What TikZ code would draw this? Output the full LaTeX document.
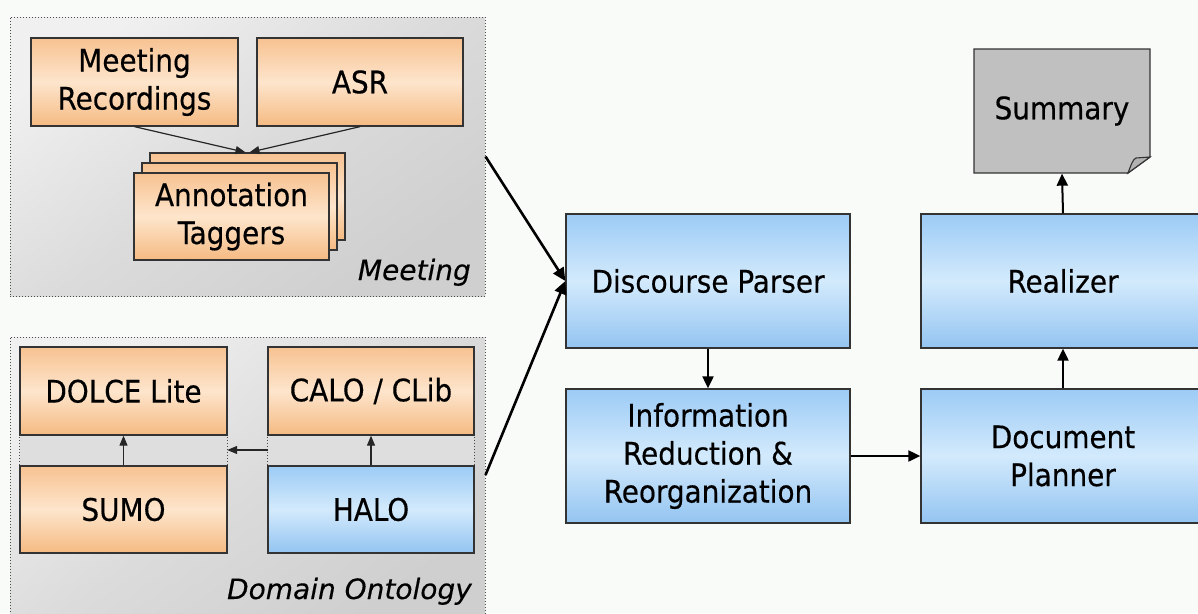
\documentclass[tikz,border=0pt]{standalone}
\usepackage{fontspec}
\setmainfont[FakeBold=0.4]{DejaVu Sans Condensed}
\newfontfamily\labfont[FakeBold=0.3]{DejaVu Sans}
\usetikzlibrary{arrows.meta}
\definecolor{bg}{HTML}{F9FBF9}
\definecolor{otop}{HTML}{F7C291}
\definecolor{omid}{HTML}{FDE5CC}
\definecolor{obot}{HTML}{F5BA82}
\definecolor{btop}{HTML}{9CCBF5}
\definecolor{bmid}{HTML}{D3EAFC}
\definecolor{bbot}{HTML}{93C4F1}
\definecolor{edge}{HTML}{333333}
\definecolor{sumfill}{HTML}{C0C0C0}
\begin{document}
\begin{tikzpicture}[x=1pt,y=-1pt,
 box/.style={draw=edge, line width=1.3pt, inner sep=0pt, align=center, font=\fontsize{31}{38}\selectfont},
 obox/.style={box, top color=otop, bottom color=obot, middle color=omid},
 bbox/.style={box, top color=btop, bottom color=bbot, middle color=bmid},
 panel/.style={draw=gray!60!black, dotted, line width=1pt, top color=gray!12, bottom color=gray!38, middle color=gray!28, shading angle=35, inner sep=0pt},
 grp/.style={draw=none, top color=gray!22, bottom color=gray!30, inner sep=0pt},
 lab/.style={font=\labfont\itshape\fontsize{28}{30}\selectfont, inner sep=0pt},
 bigarrow/.style={draw=black, line width=2.6pt, -{Triangle[length=13pt,width=12pt]}},
 midarrow/.style={draw=black, line width=2pt, -{Triangle[length=12pt,width=11pt]}},
 thinarrow/.style={draw=black!85, line width=1.2pt, -{Triangle[length=10pt,width=8pt]}}
]
\useasboundingbox (0,0) rectangle (1198,613);
\clip (0,0) rectangle (1198,613);
\fill[bg] (0,0) rectangle (1198,613);

% panels
\node[panel, minimum width=475, minimum height=279] (meet) at (247.5,156.5) {};
\node[panel, minimum width=475, minimum height=288] (dom) at (247.5,481) {};

% meeting content
\node[obox, minimum width=207, minimum height=88] (mr) at (134.5,82) {Meeting\\Recordings};
\node[obox, minimum width=206, minimum height=88] (asr) at (360,82) {ASR};
\node[obox, minimum width=195, minimum height=87] (at3) at (247.5,196.5) {};
\node[obox, minimum width=195, minimum height=87] (at2) at (239.5,206.5) {};
\node[obox, minimum width=195, minimum height=87] (at) at (231.5,216.5) {Annotation\\Taggers};
\draw[thinarrow] (mr.south) -- ([xshift=-2pt]at3.north);
\draw[thinarrow] (asr.south) -- ([xshift=2pt]at3.north);
\node[lab, anchor=base east] (ml) at (471,280) {Meeting};

% domain content
\node[grp, minimum width=207, minimum height=206] (lg) at (123.5,450) {};
\node[grp, minimum width=206, minimum height=206] (rg) at (371,450) {};
\draw[gray!60!black, dotted, line width=1pt] (lg.north west) -- (lg.south west) (lg.north east) -- (lg.south east);
\draw[gray!60!black, dotted, line width=1pt] (rg.north west) -- (rg.south west) (rg.north east) -- (rg.south east);
\node[obox, minimum width=207, minimum height=88] (dolce) at (123.5,391) {DOLCE Lite};
\node[obox, minimum width=207, minimum height=87] (sumo) at (123.5,509.5) {SUMO};
\node[obox, minimum width=206, minimum height=88] (calo) at (371,391) {CALO / CLib};
\node[bbox, minimum width=206, minimum height=87] (halo) at (371,509.5) {HALO};
\draw[thinarrow] (sumo.north) -- (dolce.south);
\draw[thinarrow] (halo.north) -- (calo.south);
\draw[thinarrow] (rg.west) -- (lg.east);
\node[lab, anchor=base east] (dl) at (472,599) {Domain Ontology};

% pipeline
\node[bbox, minimum width=284, minimum height=134] (dp) at (708,281) {Discourse Parser};
\node[bbox, minimum width=284, minimum height=134] (ir) at (708,456) {Information\\Reduction \&\\Reorganization};
\node[bbox, minimum width=284, minimum height=134] (real) at (1063,281) {Realizer};
\node[bbox, minimum width=284, minimum height=134] (docp) at (1063,456) {Document\\Planner};

% summary
\coordinate (sumc) at (1062,111);
\draw[edge, line width=1.3pt, fill=sumfill] (974,49) -- (1150,49) -- (1150,157) -- (1128,173) -- (974,173) -- cycle;
\node[box, draw=none, minimum width=176, minimum height=124] (sum) at (sumc) {\raisebox{5pt}{Summary}};
\draw[edge, line width=1.1pt, fill=gray!60] (1128,173) .. controls (1131,165) and (1133,159) .. (1136,158) -- (1150,157) -- cycle;

% arrows
\draw[bigarrow] (meet.east) -- (dp.west);
\draw[bigarrow] ([yshift=6pt]dom.east) -- (dp.west);
\draw[midarrow] (dp.south) -- (ir.north);
\draw[midarrow] (ir.east) -- (docp.west);
\draw[midarrow] (docp.north) -- (real.south);
\draw[midarrow] (real.north) -- (sum.south);
\end{tikzpicture}
\end{document}
